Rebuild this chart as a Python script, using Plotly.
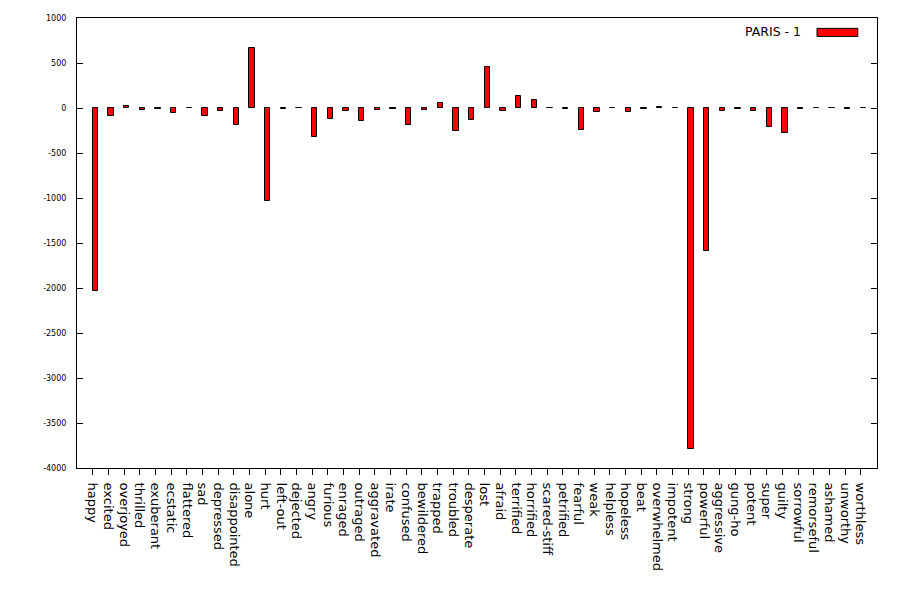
import plotly.graph_objects as go

categories = ["happy", "excited", "overjoyed", "thrilled", "exuberant", "ecstatic", "flattered",
              "sad", "depressed", "disappointed", "alone", "hurt", "left-out", "dejected",
              "angry", "furious", "enraged", "outraged", "aggravated", "irate", "confused",
              "bewildered", "trapped", "troubled", "desperate", "lost", "afraid", "terrified",
              "horrified", "scared-stiff", "petrified", "fearful", "weak", "helpless", "hopeless",
              "beat", "overwhelmed", "impotent", "strong", "powerful", "aggressive", "gung-ho",
              "potent", "super", "guilty", "sorrowful", "remorseful", "ashamed", "unworthy",
              "worthless"]

paris_1 = [-2030, -90, 25, -22, -10, -59, 0,
           -93, -37, -193, 667, -1037, -12, 0,
           -326, -126, -37, -148, -26, -15, -193,
           -26, 55, -259, -137, 455, -37, 133,
           89, 0, -10, -244, -48, 0, -48,
           -12, 12, 0, -3790, -1590, -37, -12,
           -37, -215, -281, -12, 0, 0, -12,
           0]

y_ticks = [-4000, -3500, -3000, -2500, -2000, -1500, -1000, -500, 0, 500, 1000]
series_name = "PARIS - 1"

fig = go.Figure()
fig.add_trace(go.Bar(
    x=categories, y=paris_1, name=series_name,
    width=0.34, offset=0,
    marker=dict(color="#ff0000", line=dict(color="black", width=1)),
    showlegend=False,
))

# page body has an 8px margin, so the figure is sized/offset to compensate
fig.update_layout(
    width=892, height=592,
    margin=dict(l=69, r=23, t=10, b=132),
    plot_bgcolor="white", paper_bgcolor="white",
    font=dict(family="DejaVu Sans", color="black"),
    bargap=0,
)

fig.update_xaxes(
    type="category", range=[-1, 50.04], automargin=False,
    tickmode="array", tickvals=categories, ticktext=categories,
    showline=True, linecolor="black", linewidth=1, mirror=True,
    ticks="outside", ticklen=6, tickcolor="black", tickwidth=1,
    tickangle=90, tickfont=dict(size=13, family="DejaVu Sans"), ticklabelstandoff=5,
    showgrid=False, zeroline=False,
)
fig.update_yaxes(
    range=[-4000, 1000], tickvals=y_ticks, ticktext=[str(v) for v in y_ticks],
    automargin=False,
    showline=True, linecolor="black", linewidth=1, mirror="allticks",
    ticks="inside", ticklen=6, tickcolor="black", tickwidth=1,
    tickfont=dict(size=8, family="DejaVu Sans"), ticklabelstandoff=8,
    showgrid=False, zeroline=False,
)

# legend entry drawn as gnuplot-style key
fig.add_annotation(xref="paper", yref="paper", x=0.9075, y=0.969, text=series_name,
                   showarrow=False, xanchor="right", yanchor="middle",
                   font=dict(size=12.5, family="DejaVu Sans", color="black"))
fig.add_shape(type="rect", xref="paper", yref="paper", x0=0.925, x1=0.976, y0=0.959, y1=0.977,
              fillcolor="#ff0000", line=dict(color="black", width=1))

fig.write_html("out.html")
